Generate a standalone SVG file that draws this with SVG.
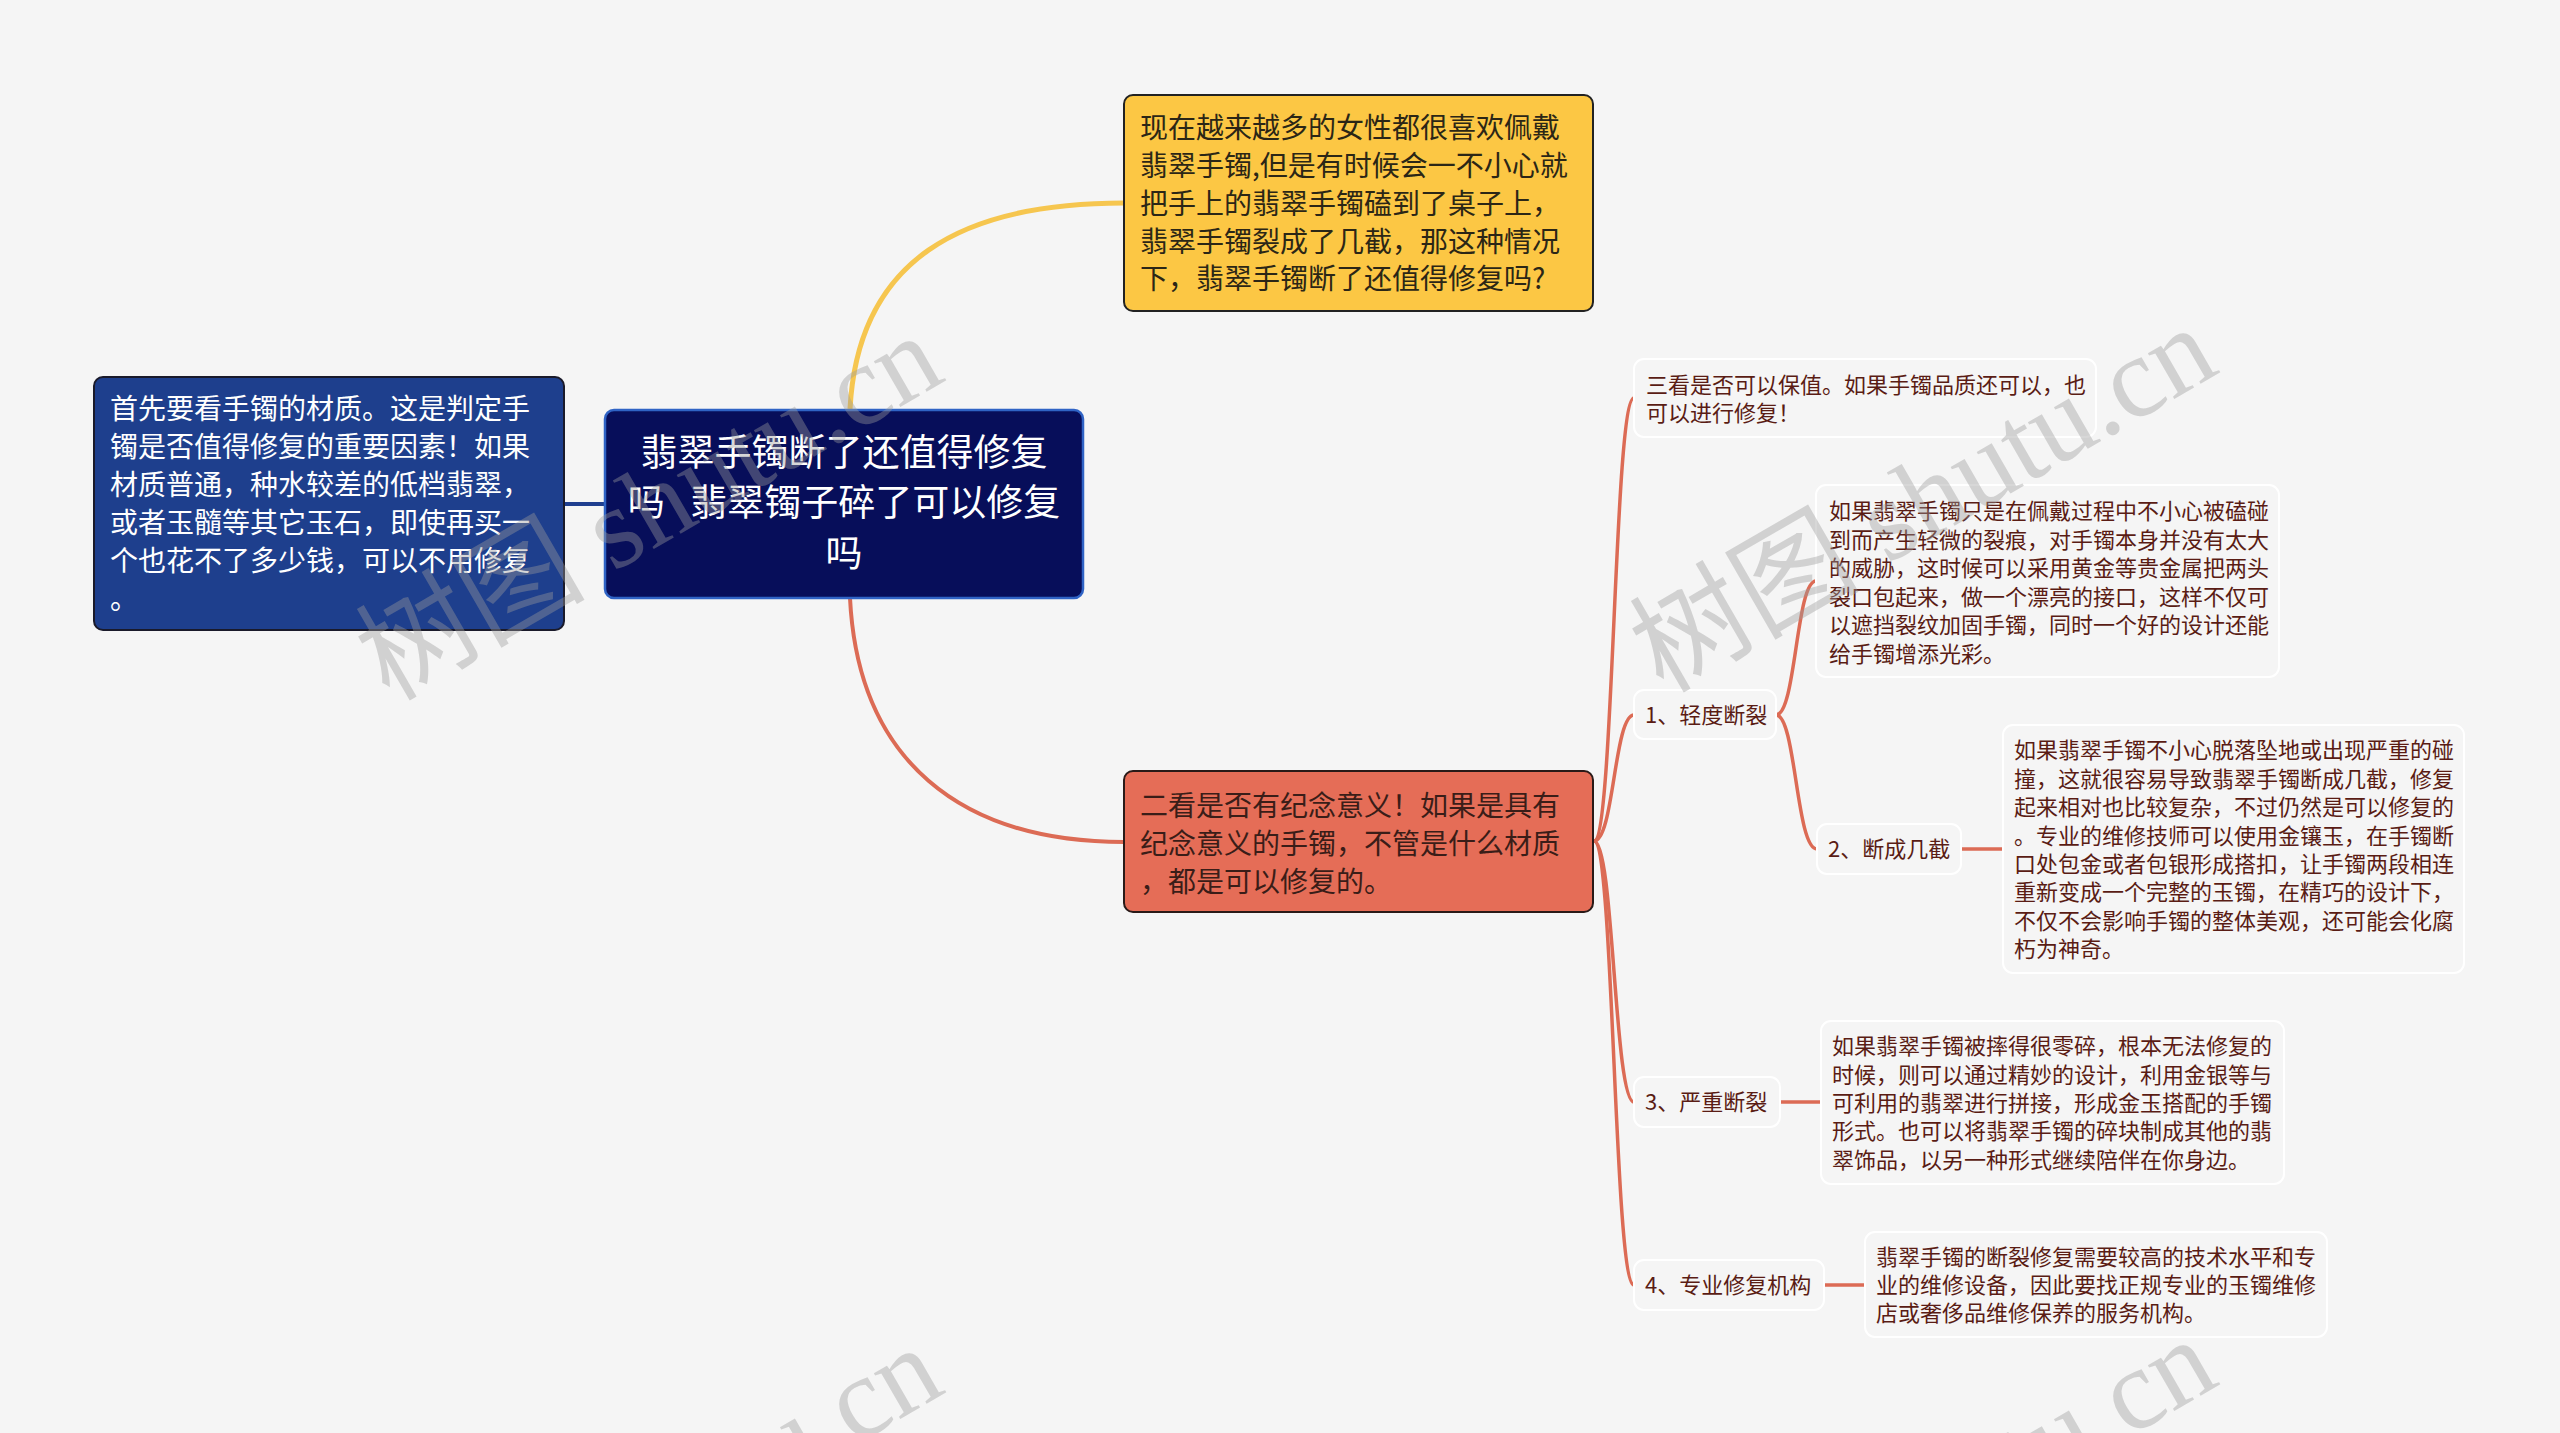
<svg xmlns="http://www.w3.org/2000/svg" width="2560" height="1433" viewBox="0 0 2560 1433">
<style>
.cjk{font-family:"Noto Sans CJK SC","Noto Sans",sans-serif}
.t28{font-size:28px}
.t22{font-size:22px;fill:#5a1c14}
.t37{font-size:37px;fill:#ffffff}
.sub{fill:#f5f5f5;stroke:#ffffff;stroke-width:2}
.br{fill:none;stroke:#dc6b55;stroke-width:3.5;stroke-linecap:round}
.wm{font-family:"Liberation Serif","Noto Sans CJK SC",serif;font-size:115px;fill:#9a9a9a;fill-opacity:0.4}
</style>
<rect x="0" y="0" width="2560" height="1433" fill="#f5f5f5"/>
<g id="connectors">
<path d="M850,409 C858,260 960,203 1124,203" fill="none" stroke="#f6c64f" stroke-width="5"/>
<path d="M850,598 C858,760 960,842 1124,842" fill="none" stroke="#dc6b55" stroke-width="4"/>
<path d="M564,504 L604,504" fill="none" stroke="#1f3f8f" stroke-width="4"/>
<path class="br" d="M1594,841 C1614,841 1614,398 1634,398"/>
<path class="br" d="M1594,841 C1614,841 1614,715 1634,715"/>
<path class="br" d="M1594,841 C1614,841 1614,1102 1634,1102"/>
<path class="br" d="M1594,841 C1614,841 1614,1285 1634,1285"/>
<path class="br" d="M1776,715 C1796,715 1796,581 1816,581"/>
<path class="br" d="M1776,715 C1796,715 1796,849 1817,849"/>
<path class="br" stroke-width="4" d="M1961,849 L2003,849"/>
<path class="br" stroke-width="4" d="M1780,1102 L1821,1102"/>
<path class="br" stroke-width="4" d="M1824,1285 L1865,1285"/>
</g>
<g id="root">
<rect x="605" y="410" width="478" height="188" rx="9" fill="#070e5a" stroke="#2f63c5" stroke-width="2.5"/>
<text class="cjk t37" text-anchor="middle"><tspan x="844" y="466">翡翠手镯断了还值得修复</tspan><tspan x="844" y="516">吗 <tspan dx="17">翡翠镯子碎了可以修复</tspan></tspan><tspan x="844" y="567">吗</tspan></text>
</g>
<g id="node-left">
<rect x="94" y="377" width="470" height="253" rx="9" fill="#1e3f8d" stroke="#1a1a2a" stroke-width="2"/>
<text class="cjk t28" fill="#ffffff"><tspan x="110" y="419">首先要看手镯的材质。这是判定手</tspan><tspan x="110" y="457">镯是否值得修复的重要因素！如果</tspan><tspan x="110" y="495">材质普通，种水较差的低档翡翠，</tspan><tspan x="110" y="533">或者玉髓等其它玉石，即使再买一</tspan><tspan x="110" y="571">个也花不了多少钱，可以不用修复</tspan><tspan x="110" y="609">。</tspan></text>
</g>
<g id="node-yellow">
<rect x="1124" y="95" width="469" height="216" rx="9" fill="#fcc744" stroke="#222222" stroke-width="2"/>
<text class="cjk t28" fill="#2b2616"><tspan x="1140" y="138">现在越来越多的女性都很喜欢佩戴</tspan><tspan x="1140" y="176">翡翠手镯,但是有时候会一不小心就</tspan><tspan x="1140" y="214">把手上的翡翠手镯磕到了桌子上，</tspan><tspan x="1140" y="251.5">翡翠手镯裂成了几截，那这种情况</tspan><tspan x="1140" y="289">下，翡翠手镯断了还值得修复吗?</tspan></text>
</g>
<g id="node-red">
<rect x="1124" y="771" width="469" height="141" rx="9" fill="#e56d57" stroke="#2a1a18" stroke-width="2"/>
<text class="cjk t28" fill="#3a1d18"><tspan x="1140" y="816">二看是否有纪念意义！如果是具有</tspan><tspan x="1140" y="854">纪念意义的手镯，不管是什么材质</tspan><tspan x="1140" y="892">，都是可以修复的。</tspan></text>
</g>
<g id="node-3">
<rect class="sub" x="1634" y="359" width="462" height="78" rx="10"/>
<text class="cjk t22"><tspan x="1646" y="393">三看是否可以保值。如果手镯品质还可以，也</tspan><tspan x="1646" y="421">可以进行修复！</tspan></text>
</g>
<g id="node-1">
<rect class="sub" x="1634" y="690" width="142" height="49" rx="10"/>
<text class="cjk t22" x="1645" y="723.4">1、轻度断裂</text>
</g>
<g id="node-1a">
<rect class="sub" x="1816" y="485" width="463" height="192" rx="10"/>
<text class="cjk t22"><tspan x="1829" y="519">如果翡翠手镯只是在佩戴过程中不小心被磕碰</tspan><tspan x="1829" y="547.5">到而产生轻微的裂痕，对手镯本身并没有太大</tspan><tspan x="1829" y="576">的威胁，这时候可以采用黄金等贵金属把两头</tspan><tspan x="1829" y="604.5">裂口包起来，做一个漂亮的接口，这样不仅可</tspan><tspan x="1829" y="633">以遮挡裂纹加固手镯，同时一个好的设计还能</tspan><tspan x="1829" y="661.5">给手镯增添光彩。</tspan></text>
</g>
<g id="node-2">
<rect class="sub" x="1817" y="824" width="144" height="50" rx="10"/>
<text class="cjk t22" x="1828" y="857.4">2、断成几截</text>
</g>
<g id="node-2a">
<rect class="sub" x="2003" y="725" width="461" height="248" rx="10"/>
<text class="cjk t22"><tspan x="2014" y="758.4">如果翡翠手镯不小心脱落坠地或出现严重的碰</tspan><tspan x="2014" y="786.8">撞，这就很容易导致翡翠手镯断成几截，修复</tspan><tspan x="2014" y="815.2">起来相对也比较复杂，不过仍然是可以修复的</tspan><tspan x="2014" y="843.6">。专业的维修技师可以使用金镶玉，在手镯断</tspan><tspan x="2014" y="872">口处包金或者包银形成搭扣，让手镯两段相连</tspan><tspan x="2014" y="900.4">重新变成一个完整的玉镯，在精巧的设计下，</tspan><tspan x="2014" y="928.8">不仅不会影响手镯的整体美观，还可能会化腐</tspan><tspan x="2014" y="957.2">朽为神奇。</tspan></text>
</g>
<g id="node-3b">
<rect class="sub" x="1634" y="1077" width="146" height="50" rx="10"/>
<text class="cjk t22" x="1645" y="1110.4">3、严重断裂</text>
</g>
<g id="node-3c">
<rect class="sub" x="1821" y="1021" width="463" height="163" rx="10"/>
<text class="cjk t22"><tspan x="1832" y="1054.1">如果翡翠手镯被摔得很零碎，根本无法修复的</tspan><tspan x="1832" y="1082.5">时候，则可以通过精妙的设计，利用金银等与</tspan><tspan x="1832" y="1110.9">可利用的翡翠进行拼接，形成金玉搭配的手镯</tspan><tspan x="1832" y="1139.3">形式。也可以将翡翠手镯的碎块制成其他的翡</tspan><tspan x="1832" y="1167.7">翠饰品，以另一种形式继续陪伴在你身边。</tspan></text>
</g>
<g id="node-4">
<rect class="sub" x="1634" y="1260" width="190" height="50" rx="10"/>
<text class="cjk t22" x="1645" y="1293.4">4、专业修复机构</text>
</g>
<g id="node-4a">
<rect class="sub" x="1865" y="1232" width="462" height="105" rx="10"/>
<text class="cjk t22"><tspan x="1876" y="1264.5">翡翠手镯的断裂修复需要较高的技术水平和专</tspan><tspan x="1876" y="1292.9">业的维修设备，因此要找正规专业的玉镯维修</tspan><tspan x="1876" y="1321.3">店或奢侈品维修保养的服务机构。</tspan></text>
</g>
<g id="watermark">
<text class="wm" x="389" y="702" transform="rotate(-30 389 702)">树图 shutu.cn</text>
<text class="wm" x="1663" y="694" transform="rotate(-30 1663 694)">树图 shutu.cn</text>
<text class="wm" x="389" y="1714" transform="rotate(-30 389 1714)">树图 shutu.cn</text>
<text class="wm" x="1663" y="1706" transform="rotate(-30 1663 1706)">树图 shutu.cn</text>
</g>
</svg>
